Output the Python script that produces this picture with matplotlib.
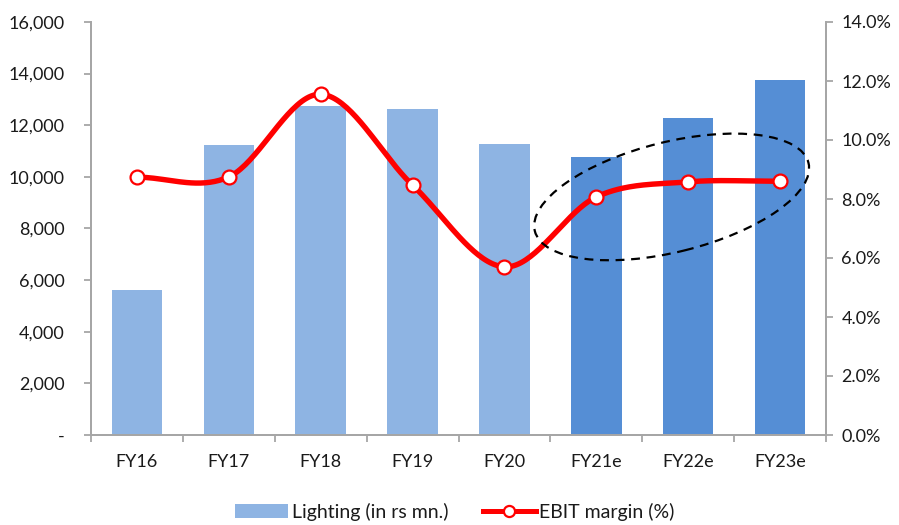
import numpy as np
import matplotlib
matplotlib.use("Agg")
import matplotlib.pyplot as plt
import matplotlib.transforms as mtransforms
from matplotlib.patches import Ellipse, Patch
from matplotlib.lines import Line2D
from matplotlib.ticker import FuncFormatter, MultipleLocator

plt.rcParams["font.family"] = ["Lato", "DejaVu Sans"]

categories = ["FY16", "FY17", "FY18", "FY19", "FY20", "FY21e", "FY22e", "FY23e"]
lighting_revenue = [5600, 11240, 12760, 12640, 11280, 10770, 12280, 13750]
ebit_margin = [8.74, 8.75, 11.55, 8.47, 5.70, 8.07, 8.58, 8.60]
is_estimate = [False, False, False, False, False, True, True, True]

actual_color = "#8EB4E3"
estimate_color = "#558ED5"
line_color = "#FF0000"
axis_color = "#A6A6A6"
text_color = "#1A1A1A"


def catmull_rom(xs, ys, steps=40):
    xs = np.asarray(xs, float)
    ys = np.asarray(ys, float)
    px = np.concatenate([[2 * xs[0] - xs[1]], xs, [2 * xs[-1] - xs[-2]]])
    py = np.concatenate([[2 * ys[0] - ys[1]], ys, [2 * ys[-1] - ys[-2]]])
    out_x, out_y = [], []
    t = np.linspace(0, 1, steps)
    for i in range(1, len(px) - 2):
        for p, out in ((px, out_x), (py, out_y)):
            p0, p1, p2, p3 = p[i - 1], p[i], p[i + 1], p[i + 2]
            seg = 0.5 * ((2 * p1) + (-p0 + p2) * t
                         + (2 * p0 - 5 * p1 + 4 * p2 - p3) * t ** 2
                         + (-p0 + 3 * p1 - 3 * p2 + p3) * t ** 3)
            out.extend(seg if i == 1 else seg[1:])
    return np.array(out_x), np.array(out_y)


fig = plt.figure(figsize=(8.99, 5.25), dpi=100)
ax = fig.add_axes([91 / 899, (525 - 435) / 525, 735 / 899, 413 / 525])
ax2 = ax.twinx()

x = np.arange(len(categories))
colors = [estimate_color if e else actual_color for e in is_estimate]
ax.bar(x, lighting_revenue, width=0.55, color=colors, zorder=2)
ax.set_xlim(-0.5, len(categories) - 0.5)
ax.set_ylim(0, 16000)
ax.yaxis.set_major_locator(MultipleLocator(2000))
ax.yaxis.set_major_formatter(FuncFormatter(lambda v, _: "-" if v == 0 else f"{v:,.0f}"))

ax.set_xticks(x)
ax.set_xticklabels(categories)
ax.set_xticks(np.arange(-0.5, len(categories)), minor=True)
ax.tick_params(axis="x", which="major", length=0, pad=14, labelsize=13, labelcolor=text_color)
ax.tick_params(axis="x", which="minor", length=5, width=1.3, color=axis_color, direction="out")
ax.tick_params(axis="y", length=5, width=1.3, color=axis_color, labelsize=13,
               labelcolor=text_color, pad=14)

ax2.set_ylim(0, 14)
ax2.yaxis.set_major_locator(MultipleLocator(2))
ax2.yaxis.set_major_formatter(FuncFormatter(lambda v, _: f"{v:.1f}%"))
ax2.tick_params(axis="y", length=5, width=1.3, color=axis_color, labelsize=13,
                labelcolor=text_color, pad=6)

for a in (ax, ax2):
    a.spines["top"].set_visible(False)
    for s in ("left", "right", "bottom"):
        a.spines[s].set_color(axis_color)
        a.spines[s].set_linewidth(1.3)

sx, sy = catmull_rom(x, ebit_margin)
ax2.plot(sx, sy, color=line_color, linewidth=3.9, solid_capstyle="round", zorder=3)
ax2.plot(x, ebit_margin, linestyle="none", marker="o", markersize=10,
         markerfacecolor="white", markeredgecolor=line_color, markeredgewidth=1.6, zorder=4)

# dashed ring highlighting the estimate years
ring_anchor = mtransforms.ScaledTranslation(5.82, 8.07, ax2.transData)
ring = Ellipse((0, 0), width=2.82, height=1.10, angle=14,
               transform=fig.dpi_scale_trans + ring_anchor,
               fill=False, edgecolor="black", linestyle=(0, (4, 3)), linewidth=1.6, zorder=5)
ax2.add_artist(ring)
ax2.set_zorder(ax.get_zorder() + 1)
ax2.patch.set_visible(False)

handles = [
    Patch(facecolor=actual_color, edgecolor="none"),
    Line2D([0], [0], color=line_color, linewidth=3.6, marker="o", markersize=8,
           markerfacecolor="white", markeredgecolor=line_color, markeredgewidth=1.6),
]
fig.legend(handles, ["Lighting (in rs mn.)", "EBIT margin (%)"], loc="center",
           bbox_to_anchor=(455 / 899, 1 - 512 / 525), ncol=2, frameon=False,
           fontsize=14, handlelength=2.7, handleheight=0.7, columnspacing=1.8,
           handletextpad=0.2, labelcolor=text_color)

fig.savefig("out.png", dpi=100)
